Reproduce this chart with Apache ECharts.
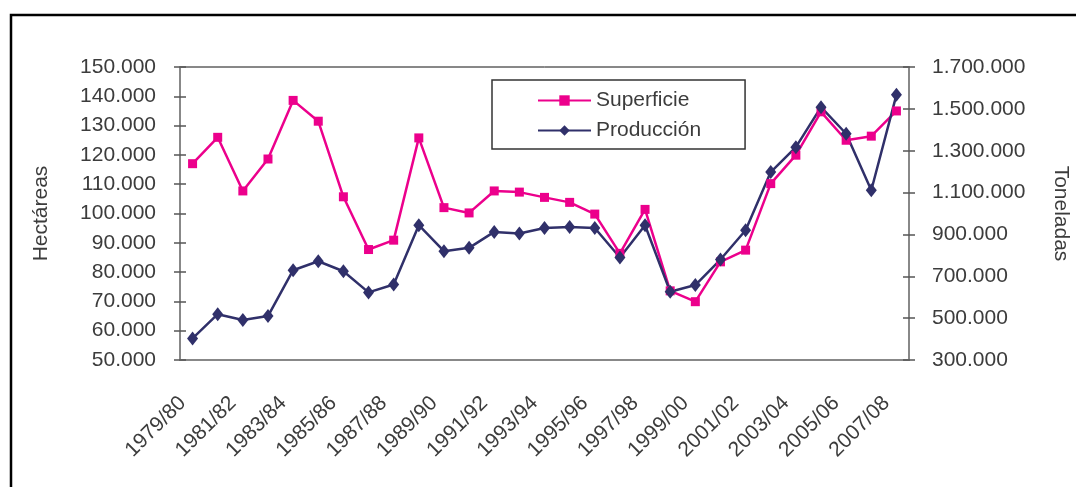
<!DOCTYPE html>
<html>
<head>
<meta charset="utf-8">
<script src="https://cdn.jsdelivr.net/npm/echarts@6/dist/echarts.min.js"></script>
<style>
  html, body { margin: 0; padding: 0; background: #fff; }
  #chart { width: 1076px; height: 487px; }
</style>
</head>
<body>
<div id="chart"></div>
<script>
var campanas = ['1979/80', '1980/81', '1981/82', '1982/83', '1983/84', '1984/85', '1985/86', '1986/87',
  '1987/88', '1988/89', '1989/90', '1990/91', '1991/92', '1992/93', '1993/94', '1994/95', '1995/96',
  '1996/97', '1997/98', '1998/99', '1999/00', '2000/01', '2001/02', '2002/03', '2003/04', '2004/05',
  '2005/06', '2006/07', '2007/08'];

// hectáreas
var superficie = [117000, 126000, 107700, 118600, 138600, 131500, 105700, 87700, 90900, 125800,
  102000, 100200, 107700, 107300, 105500, 103800, 99800, 86400, 101400, 73600, 69900, 83500,
  87500, 110200, 119900, 134700, 125000, 126400, 135000];

// toneladas
var produccion = [403000, 519000, 491000, 510000, 729000, 772000, 724000, 623000, 661000, 944000,
  820000, 836000, 912000, 904000, 931000, 936000, 931000, 790000, 944000, 626000, 658000, 780000,
  920000, 1198000, 1317000, 1508000, 1381000, 1111000, 1567000];

var chart = echarts.init(document.getElementById('chart'));

var txt = { fontFamily: 'Liberation Sans, Arial, sans-serif', fontSize: 21, color: '#3c3c3c' };
var tickStyle = { color: '#555', width: 1.5 };
var noLine = { show: true, lineStyle: { color: 'rgba(0,0,0,0)' } };

function miles(v) {
  return String(v).replace(/\B(?=(\d{3})+(?!\d))/g, '.');
}

// same rectangle twice: grid 1 only carries the inner half of the crossing ticks
var rect = { left: 180, top: 67, width: 729, height: 293, outerBoundsMode: 'none', containLabel: false };

var option = {
  animation: false,
  textStyle: { fontFamily: 'Liberation Sans, Arial, sans-serif' },
  graphic: [{
    type: 'rect',
    shape: { x: 11, y: 15, width: 1100, height: 500 },
    style: { fill: 'none', stroke: '#000', lineWidth: 2.5 },
    silent: true
  }],
  grid: [
    Object.assign({ show: true, borderColor: '#111', borderWidth: 1 }, rect),
    Object.assign({ show: false }, rect)
  ],
  legend: {
    left: 492,
    top: 80,
    orient: 'vertical',
    padding: [10, 44, 8, 45],
    itemGap: 9,
    itemWidth: 53,
    itemHeight: 13,
    borderColor: '#333',
    borderWidth: 1.5,
    textStyle: txt,
    data: ['Superficie', 'Producción']
  },
  xAxis: [{
    type: 'category',
    gridIndex: 0,
    data: campanas,
    boundaryGap: true,
    axisLine: { lineStyle: { color: '#888', width: 2 } },
    axisTick: { length: 6, interval: 0, lineStyle: tickStyle },
    axisLabel: Object.assign({ interval: 1, rotate: 45, margin: 30, padding: [0, 14, 0, 0] }, txt),
    splitLine: { show: false }
  }, {
    type: 'category',
    gridIndex: 1,
    data: campanas,
    boundaryGap: true,
    axisLine: noLine,
    axisTick: { inside: true, length: 6, interval: 0, lineStyle: tickStyle },
    axisLabel: { show: false },
    splitLine: { show: false }
  }],
  yAxis: [{
    type: 'value',
    gridIndex: 0,
    position: 'left',
    min: 50000,
    max: 150000,
    interval: 10000,
    name: 'Hectáreas',
    nameLocation: 'middle',
    nameGap: 128,
    nameTextStyle: txt,
    axisLine: { show: true, lineStyle: { color: '#888', width: 2 } },
    axisTick: { show: true, length: 6, lineStyle: tickStyle },
    axisLabel: Object.assign({ margin: 24, formatter: miles }, txt),
    splitLine: { show: false }
  }, {
    type: 'value',
    gridIndex: 0,
    position: 'right',
    min: 300000,
    max: 1700000,
    interval: 200000,
    name: 'Toneladas',
    nameLocation: 'middle',
    nameRotate: -90,
    nameGap: 141,
    nameTextStyle: txt,
    axisLine: { show: true, lineStyle: { color: '#888', width: 2 } },
    axisTick: { show: true, length: 6, lineStyle: tickStyle },
    axisLabel: Object.assign({ margin: 23, formatter: miles }, txt),
    splitLine: { show: false }
  }, {
    type: 'value',
    gridIndex: 1,
    position: 'left',
    min: 50000,
    max: 150000,
    interval: 10000,
    axisLine: noLine,
    axisTick: { show: true, inside: true, length: 6, lineStyle: tickStyle },
    axisLabel: { show: false },
    splitLine: { show: false }
  }, {
    type: 'value',
    gridIndex: 1,
    position: 'right',
    min: 300000,
    max: 1700000,
    interval: 200000,
    axisLine: noLine,
    axisTick: { show: true, inside: true, length: 6, lineStyle: tickStyle },
    axisLabel: { show: false },
    splitLine: { show: false }
  }],
  series: [{
    name: 'Superficie',
    type: 'line',
    xAxisIndex: 0,
    yAxisIndex: 0,
    data: superficie,
    symbol: 'rect',
    symbolSize: 9,
    color: '#EC008C',
    lineStyle: { width: 2.5 },
    itemStyle: { color: '#EC008C' }
  }, {
    name: 'Producción',
    type: 'line',
    xAxisIndex: 0,
    yAxisIndex: 1,
    data: produccion,
    symbol: 'diamond',
    symbolSize: [11, 14],
    color: '#30306A',
    lineStyle: { width: 2.5 },
    itemStyle: { color: '#30306A' }
  }]
};
chart.setOption(option);
</script>
</body>
</html>
